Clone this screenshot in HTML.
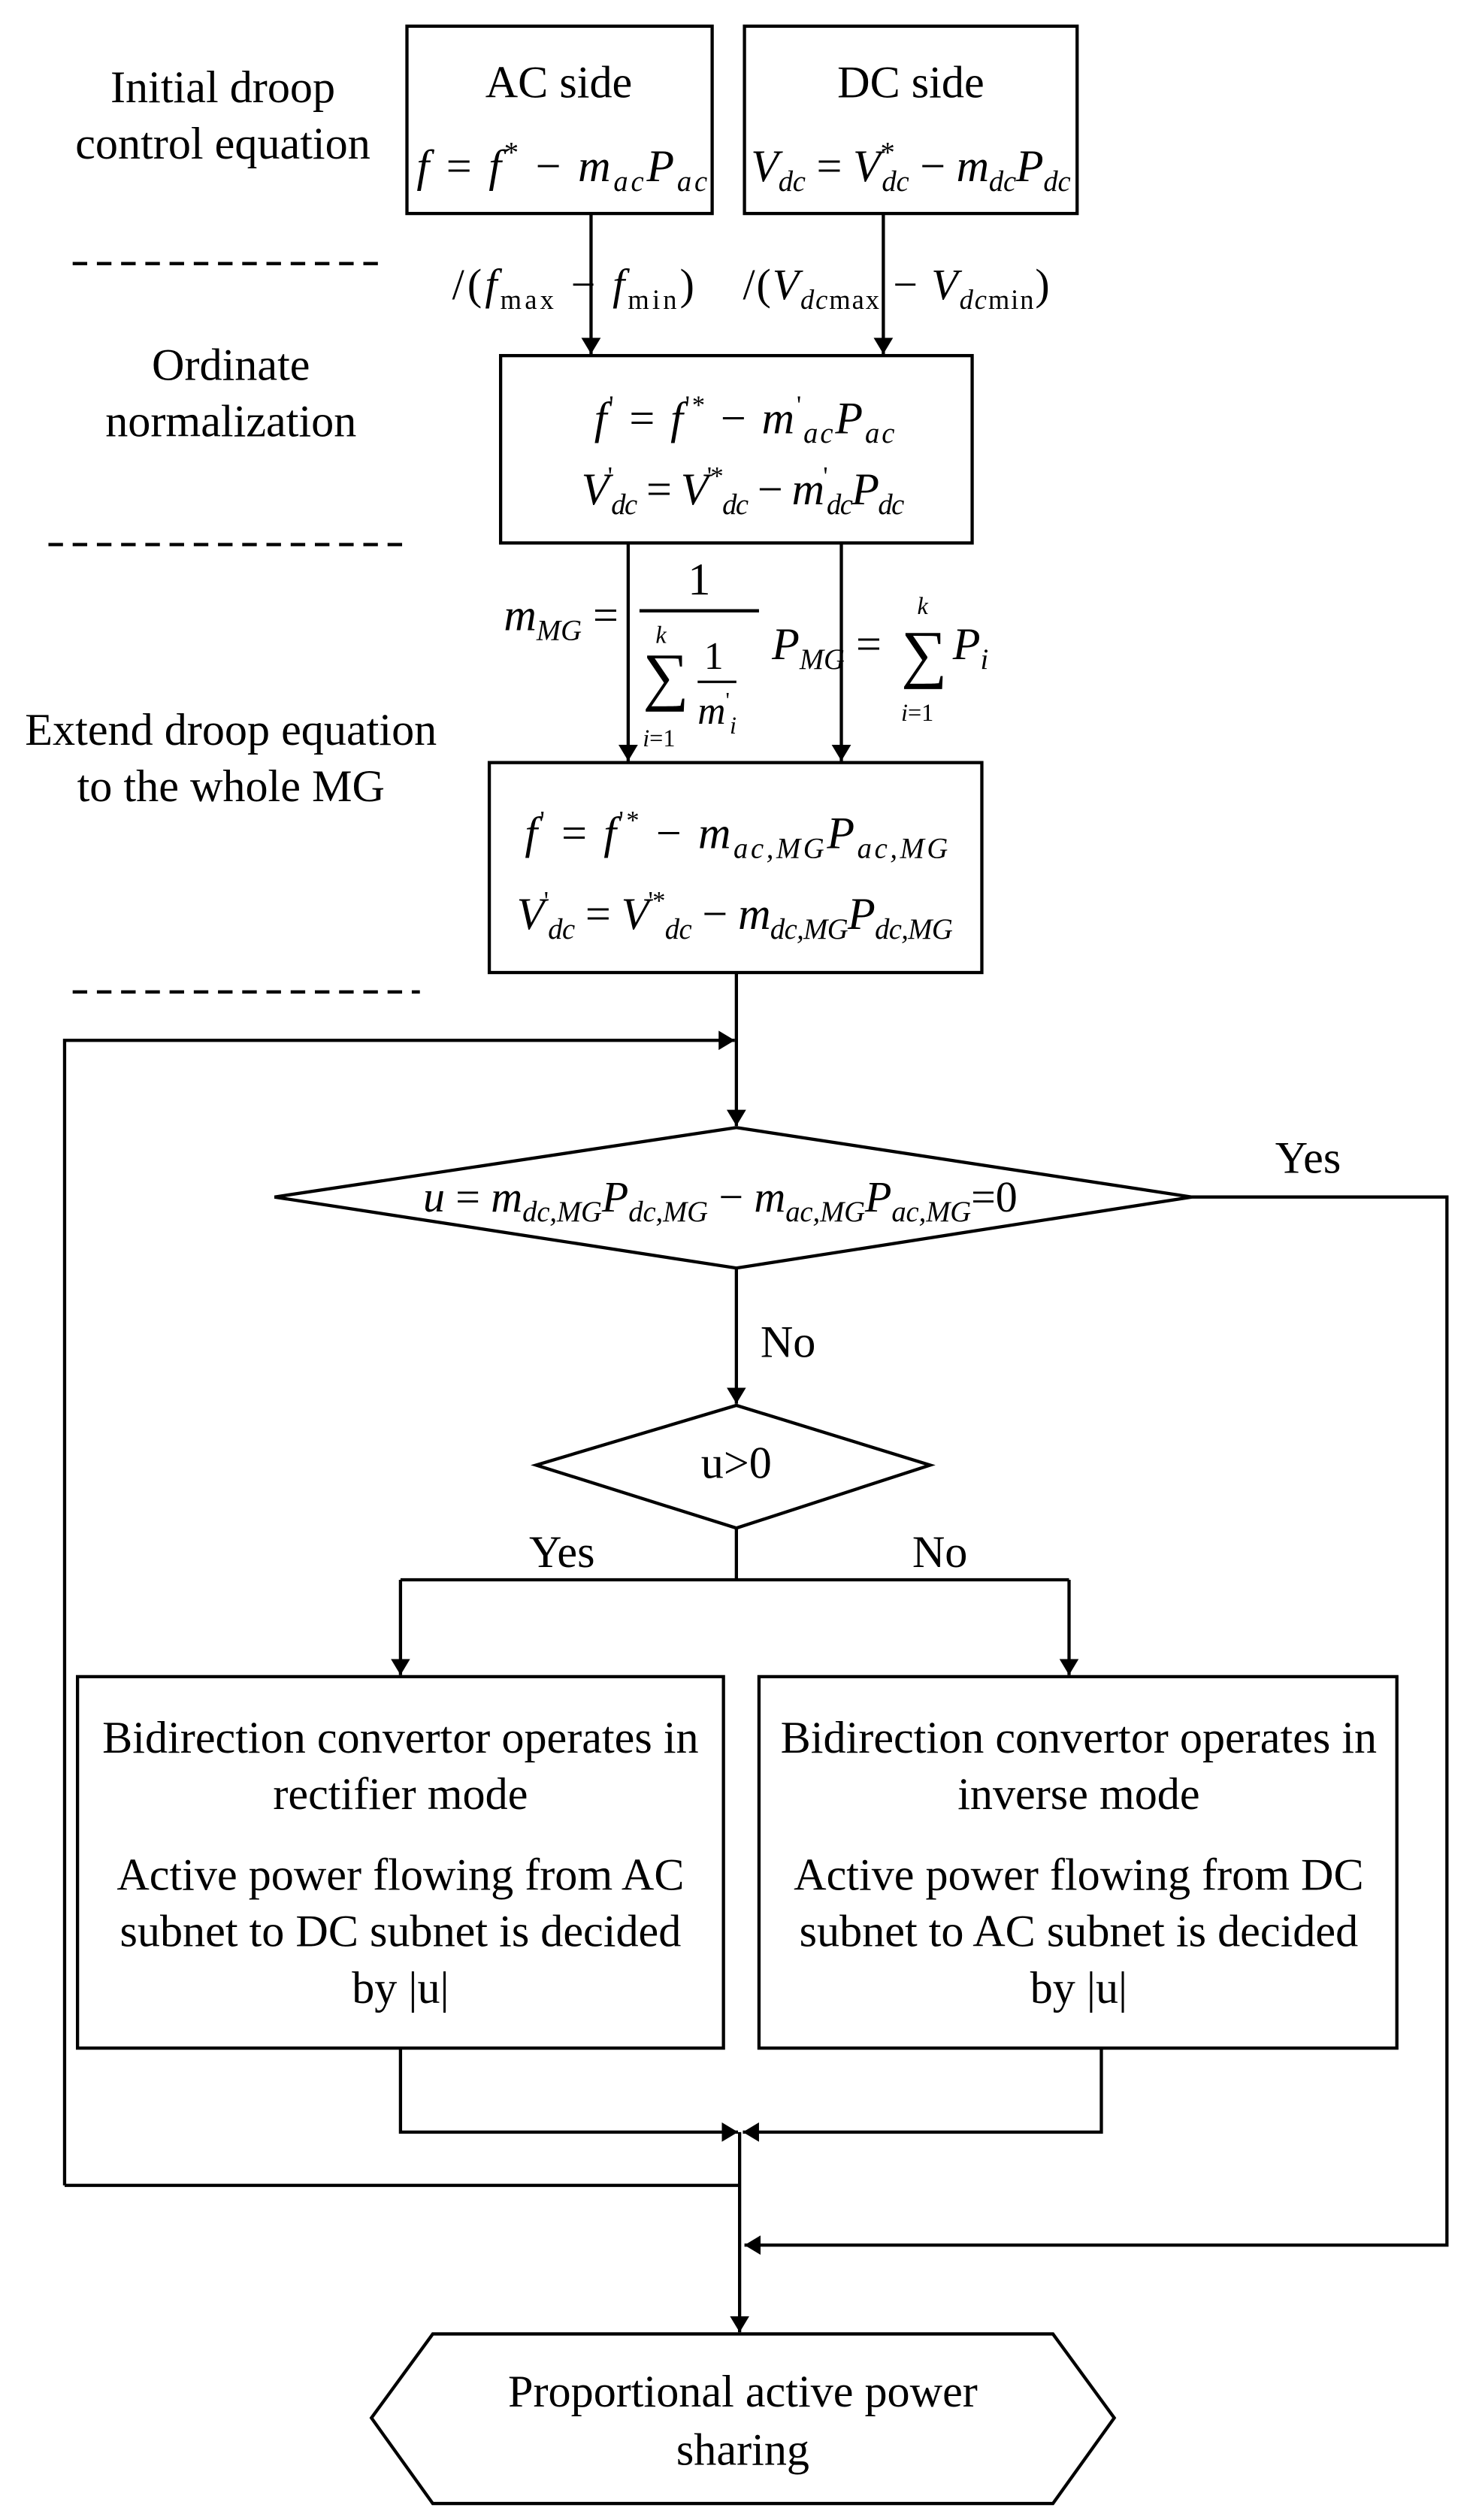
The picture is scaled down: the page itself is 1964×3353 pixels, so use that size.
<!DOCTYPE html>
<html><head><meta charset="utf-8"><style>
html,body{margin:0;padding:0;background:#fff;}
svg{display:block;}
text{font-family:"Liberation Serif",serif;fill:#000;}
.m{font-style:italic;}
</style></head><body>
<svg width="1964" height="3353" viewBox="0 0 914 1560" xmlns="http://www.w3.org/2000/svg">
<defs>
<marker id="a" markerWidth="10" markerHeight="14" refX="10" refY="7" orient="auto" markerUnits="userSpaceOnUse">
<path d="M0,1 L10,7 L0,13 z" fill="#000"/></marker>
</defs>
<g fill="none" stroke="#000" stroke-width="2">
<rect x="252" y="16" width="189" height="116"/>
<rect x="461" y="16" width="206" height="116"/>
<rect x="310" y="220" width="292" height="116"/>
<rect x="303" y="472" width="305" height="130"/>
<rect x="48" y="1038" width="400" height="230"/>
<rect x="470" y="1038" width="395" height="230"/>
<polygon points="170,741 456,698 738,741 456,785"/>
<polygon points="332,907 456,870 576,907 456,946"/>
<polygon points="230,1497 268,1445 652,1445 690,1497 652,1550 268,1550"/>
<g stroke-dasharray="9,6">
<line x1="45" y1="163" x2="238" y2="163"/>
<line x1="30" y1="337" x2="250" y2="337"/>
<line x1="45" y1="614" x2="260" y2="614"/>
</g>
<line x1="366" y1="132" x2="366" y2="219" marker-end="url(#a)"/>
<line x1="547" y1="132" x2="547" y2="219" marker-end="url(#a)"/>
<line x1="389" y1="336" x2="389" y2="471" marker-end="url(#a)"/>
<line x1="521" y1="336" x2="521" y2="471" marker-end="url(#a)"/>
<line x1="456" y1="602" x2="456" y2="697" marker-end="url(#a)"/>
<polyline points="40,1353 40,644 455,644" marker-end="url(#a)"/>
<polyline points="738,741 896,741 896,1390 461,1390" marker-end="url(#a)"/>
<line x1="456" y1="785" x2="456" y2="869" marker-end="url(#a)"/>
<polyline points="456,946 456,978"/>
<polyline points="248,978 248,1037" marker-end="url(#a)"/>
<polyline points="662,978 662,1037" marker-end="url(#a)"/>
<line x1="248" y1="978" x2="662" y2="978"/>
<polyline points="248,1268 248,1320 457,1320" marker-end="url(#a)"/>
<polyline points="682,1268 682,1320 460,1320" marker-end="url(#a)"/>
<line x1="40" y1="1353" x2="458" y2="1353"/>
<line x1="458" y1="1320" x2="458" y2="1444" marker-end="url(#a)"/>
<line x1="396" y1="378" x2="470" y2="378"/>
</g>
<g font-size="28" text-anchor="middle">
<text x="138" y="63">Initial droop</text>
<text x="138" y="98">control equation</text>
<text x="143" y="235">Ordinate</text>
<text x="143" y="270">normalization</text>
<text x="143" y="461">Extend droop equation</text>
<text x="143" y="496">to the whole MG</text>
<text x="346" y="60">AC side</text>
<text x="564" y="60">DC side</text>
<text x="810" y="726" text-anchor="middle">Yes</text>
<text x="488" y="840">No</text>
<text x="456" y="915">u&gt;0</text>
<text x="348" y="970">Yes</text>
<text x="582" y="970">No</text>
<text x="248" y="1085">Bidirection convertor operates in</text>
<text x="248" y="1120">rectifier mode</text>
<text x="248" y="1170">Active power flowing from AC</text>
<text x="248" y="1205">subnet to DC subnet is decided</text>
<text x="248" y="1240">by |u|</text>
<text x="668" y="1085">Bidirection convertor operates in</text>
<text x="668" y="1120">inverse mode</text>
<text x="668" y="1170">Active power flowing from DC</text>
<text x="668" y="1205">subnet to AC subnet is decided</text>
<text x="668" y="1240">by |u|</text>
<text x="460" y="1490">Proportional active power</text>
<text x="460" y="1526">sharing</text>
</g>
<g font-size="28">
<text x="258" y="112" textLength="180" lengthAdjust="spacing"><tspan class="m">f</tspan> = <tspan class="m">f</tspan><tspan dy="-12" font-size="18">*</tspan><tspan dy="12"> − </tspan><tspan class="m">m</tspan><tspan class="m" font-size="18" dy="6">ac</tspan><tspan class="m" dy="-6">P</tspan><tspan class="m" font-size="18" dy="6">ac</tspan></text>
<text x="465" y="112" textLength="198" lengthAdjust="spacing"><tspan class="m">V</tspan><tspan class="m" font-size="18" dy="6">dc</tspan><tspan dy="-6"> = </tspan><tspan class="m">V</tspan><tspan font-size="18" dy="-12">*</tspan><tspan class="m" font-size="18" dx="-8" dy="18">dc</tspan><tspan dy="-6"> − </tspan><tspan class="m">m</tspan><tspan class="m" font-size="18" dy="6">dc</tspan><tspan class="m" dy="-6">P</tspan><tspan class="m" font-size="18" dy="6">dc</tspan></text>
<text x="280" y="185" font-size="27" textLength="150" lengthAdjust="spacing">/(<tspan class="m">f</tspan><tspan font-size="17" dy="6">max</tspan><tspan dy="-6"> − </tspan><tspan class="m">f</tspan><tspan font-size="17" dy="6">min</tspan><tspan dy="-6">)</tspan></text>
<text x="460" y="185" font-size="27" textLength="190" lengthAdjust="spacing">/(<tspan class="m">V</tspan><tspan class="m" font-size="17" dy="6">dc</tspan><tspan font-size="17">max</tspan><tspan dy="-6"> − </tspan><tspan class="m">V</tspan><tspan class="m" font-size="17" dy="6">dc</tspan><tspan font-size="17">min</tspan><tspan dy="-6">)</tspan></text>
<text x="368" y="268" textLength="186" lengthAdjust="spacing"><tspan class="m">f</tspan><tspan font-size="16" dy="-12">'</tspan><tspan dy="12"> = </tspan><tspan class="m">f</tspan><tspan font-size="16" dy="-12">'*</tspan><tspan dy="12"> − </tspan><tspan class="m">m</tspan><tspan font-size="16" dy="-12">'</tspan><tspan class="m" font-size="18" dy="18">ac</tspan><tspan class="m" dy="-6">P</tspan><tspan class="m" font-size="18" dy="6">ac</tspan></text>
<text x="360" y="312" textLength="200" lengthAdjust="spacing"><tspan class="m">V</tspan><tspan font-size="16" dy="-12">'</tspan><tspan class="m" font-size="18" dy="18">dc</tspan><tspan dy="-6"> = </tspan><tspan class="m">V</tspan><tspan font-size="16" dy="-12">'*</tspan><tspan class="m" font-size="18" dy="18">dc</tspan><tspan dy="-6"> − </tspan><tspan class="m">m</tspan><tspan font-size="16" dy="-12">'</tspan><tspan class="m" font-size="18" dy="18">dc</tspan><tspan class="m" dy="-6">P</tspan><tspan class="m" font-size="18" dy="6">dc</tspan></text>
<text x="312" y="390"><tspan class="m">m</tspan><tspan class="m" font-size="18" dy="6">MG</tspan><tspan dy="-6"> =</tspan></text>
<text x="433" y="368" text-anchor="middle">1</text>
<text x="398" y="432" font-size="40">∑</text>
<text x="406" y="398" font-size="15" class="m">k</text>
<text x="398" y="462" font-size="15"><tspan class="m">i</tspan>=1</text>
<text x="442" y="414" font-size="24" text-anchor="middle">1</text>
<line x1="432" y1="422" x2="456" y2="422" stroke="#000" stroke-width="1.5"/>
<text x="432" y="448" font-size="24"><tspan class="m">m</tspan><tspan font-size="14" dy="-10">'</tspan><tspan class="m" font-size="15" dy="16">i</tspan></text>
<text x="478" y="408"><tspan class="m">P</tspan><tspan class="m" font-size="18" dy="6">MG</tspan><tspan dy="-6"> = </tspan></text>
<text x="558" y="418" font-size="40">∑</text>
<text x="568" y="380" font-size="15" class="m">k</text>
<text x="558" y="446" font-size="15"><tspan class="m">i</tspan>=1</text>
<text x="590" y="408"><tspan class="m">P</tspan><tspan class="m" font-size="18" dy="6">i</tspan></text>
<text x="325" y="525" textLength="262" lengthAdjust="spacing"><tspan class="m">f</tspan><tspan font-size="16" dy="-12">'</tspan><tspan dy="12"> = </tspan><tspan class="m">f</tspan><tspan font-size="16" dy="-12">'*</tspan><tspan dy="12"> − </tspan><tspan class="m">m</tspan><tspan class="m" font-size="18" dy="6">ac,MG</tspan><tspan class="m" dy="-6">P</tspan><tspan class="m" font-size="18" dy="6">ac,MG</tspan></text>
<text x="320" y="575" textLength="270" lengthAdjust="spacing"><tspan class="m">V</tspan><tspan font-size="16" dy="-12">'</tspan><tspan class="m" font-size="18" dy="18">dc</tspan><tspan dy="-6"> = </tspan><tspan class="m">V</tspan><tspan font-size="16" dy="-12">'*</tspan><tspan class="m" font-size="18" dy="18">dc</tspan><tspan dy="-6"> − </tspan><tspan class="m">m</tspan><tspan class="m" font-size="18" dy="6">dc,MG</tspan><tspan class="m" dy="-6">P</tspan><tspan class="m" font-size="18" dy="6">dc,MG</tspan></text>
<text x="262" y="750" font-size="27" textLength="368" lengthAdjust="spacing"><tspan class="m">u</tspan> = <tspan class="m">m</tspan><tspan class="m" font-size="18" dy="6">dc,MG</tspan><tspan class="m" dy="-6">P</tspan><tspan class="m" font-size="18" dy="6">dc,MG</tspan><tspan dy="-6"> − </tspan><tspan class="m">m</tspan><tspan class="m" font-size="18" dy="6">ac,MG</tspan><tspan class="m" dy="-6">P</tspan><tspan class="m" font-size="18" dy="6">ac,MG</tspan><tspan dy="-6">=0</tspan></text>
</g>
</svg>
</body></html>
